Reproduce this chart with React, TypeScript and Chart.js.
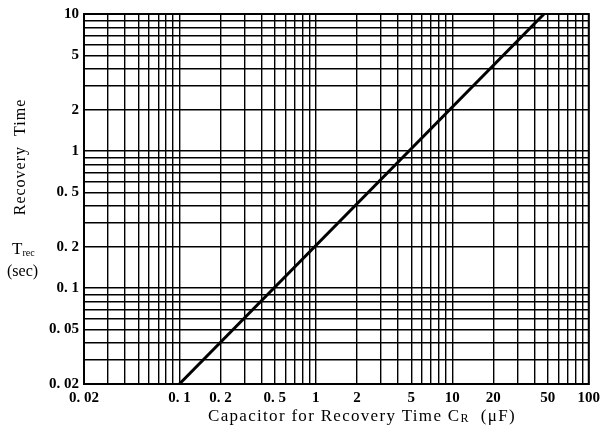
import React, { useEffect, useRef } from "react";
import { Chart, registerables } from "chart.js";

Chart.register(...registerables);

// Data (log-log, T_rec vs C_R)
const capacitorUF: number[] = [0.1, 47];
const recoverySec: number[] = [0.02, 10];

// Grid lines (every log-minor value) and labelled ticks
const xGrid: number[] = [
  0.02, 0.03, 0.04, 0.05, 0.06, 0.07, 0.08, 0.09,
  0.1, 0.2, 0.3, 0.4, 0.5, 0.6, 0.7, 0.8, 0.9,
  1, 2, 3, 4, 5, 6, 7, 8, 9,
  10, 20, 30, 40, 50, 60, 70, 80, 90, 100,
];
const yGrid: number[] = [
  0.02, 0.03, 0.04, 0.05, 0.06, 0.07, 0.08, 0.09,
  0.1, 0.2, 0.3, 0.4, 0.5, 0.6, 0.7, 0.8, 0.9,
  1, 2, 3, 4, 5, 6, 7, 8, 9, 10,
];
const xLabels: number[] = [0.02, 0.1, 0.2, 0.5, 1, 2, 5, 10, 20, 50, 100];
const yLabels: number[] = [0.02, 0.05, 0.1, 0.2, 0.5, 1, 2, 5, 10];

const yTitle = "Recovery  Time";
const xTitleMain = "Capacitor for Recovery Time C";
const xTitleSub = "R";
const xTitleEnd = "  (\u03BCF)";

const SERIF = '"Liberation Serif", "DejaVu Serif", serif';

function fmt(v: number): string {
  if (v < 1) {
    const s = String(v);
    return "0. " + s.slice(2);
  }
  return String(v);
}

function inList(list: number[], v: number): boolean {
  return list.some((l) => Math.abs(l - v) / l < 1e-6);
}

export default function App() {
  const ref = useRef<HTMLCanvasElement | null>(null);

  useEffect(() => {
    const canvas = ref.current;
    if (!canvas) return;

    const titlesPlugin = {
      id: "titles",
      afterDraw(chart: any) {
        const ctx = chart.ctx as CanvasRenderingContext2D;
        const a = chart.chartArea;
        ctx.save();
        // border
        ctx.strokeStyle = "#000";
        ctx.lineWidth = 2;
        ctx.strokeRect(a.left, a.top, a.right - a.left, a.bottom - a.top);

        ctx.fillStyle = "#000";
        // Y title rotated
        ctx.save();
        ctx.translate(21, 157);
        ctx.rotate(-Math.PI / 2);
        ctx.font = `16px ${SERIF}`;
        ctx.textAlign = "center";
        ctx.textBaseline = "middle";
        (ctx as any).letterSpacing = "1px";
        ctx.fillText(yTitle, 0, 0);
        ctx.restore();

        // T_rec
        ctx.textBaseline = "alphabetic";
        ctx.textAlign = "left";
        ctx.font = `17px ${SERIF}`;
        ctx.fillText("T", 12, 254);
        const tw = ctx.measureText("T").width;
        ctx.font = `10px ${SERIF}`;
        ctx.fillText("rec", 12 + tw, 256);
        // (sec)
        ctx.font = `16px ${SERIF}`;
        ctx.fillText("(sec)", 7, 276);

        // X title
        ctx.font = `17px ${SERIF}`;
        (ctx as any).letterSpacing = "1.3px";
        const w1 = ctx.measureText(xTitleMain).width;
        const w3 = ctx.measureText(xTitleEnd).width;
        ctx.font = `12px ${SERIF}`;
        const w2 = ctx.measureText(xTitleSub).width;
        const total = w1 + w2 + w3;
        let x = 362 - total / 2;
        const base = 421;
        ctx.font = `17px ${SERIF}`;
        ctx.fillText(xTitleMain, x, base);
        x += w1;
        ctx.font = `12px ${SERIF}`;
        ctx.fillText(xTitleSub, x, base + 1);
        x += w2;
        ctx.font = `17px ${SERIF}`;
        ctx.fillText(xTitleEnd, x, base);
        ctx.restore();
      },
    };

    const chart = new Chart(canvas, {
      type: "scatter",
      data: {
        datasets: [
          {
            data: capacitorUF.map((c, i) => ({ x: c, y: recoverySec[i] })),
            showLine: true,
            borderColor: "#000",
            backgroundColor: "#000",
            borderWidth: 3,
            pointRadius: 0,
          },
        ],
      },
      options: {
        responsive: false,
        animation: false,
        devicePixelRatio: 1,
        layout: { padding: { left: 0, right: 13, top: 9, bottom: 0 } },
        plugins: { legend: { display: false }, tooltip: { enabled: false } },
        scales: {
          x: {
            type: "logarithmic",
            min: 0.02,
            max: 100,
            afterBuildTicks: (s: any) => {
              s.ticks = xGrid.map((v) => ({ value: v }));
            },
            afterFit: (s: any) => {
              s.height = 51;
            },
            grid: { color: "#000", lineWidth: 1.4, drawTicks: false },
            border: { display: true, color: "#000", width: 2 },
            ticks: {
              autoSkip: false,
              maxRotation: 0,
              minRotation: 0,
              padding: 5,
              color: "#000",
              font: { family: SERIF, size: 15, weight: "bold" },
              callback: (v: any) => (inList(xLabels, Number(v)) ? fmt(Number(v)) : ""),
            },
          },
          y: {
            type: "logarithmic",
            min: 0.02,
            max: 10,
            afterBuildTicks: (s: any) => {
              s.ticks = yGrid.map((v) => ({ value: v }));
            },
            afterFit: (s: any) => {
              s.width = 84;
            },
            grid: { color: "#000", lineWidth: 1.4, drawTicks: false },
            border: { display: true, color: "#000", width: 2 },
            ticks: {
              autoSkip: false,
              padding: 5,
              color: "#000",
              font: { family: SERIF, size: 15, weight: "bold" },
              callback: (v: any) => (inList(yLabels, Number(v)) ? fmt(Number(v)) : ""),
            },
          },
        },
      } as any,
      plugins: [titlesPlugin],
    });

    return () => {
      chart.destroy();
    };
  }, []);

  return (
    <div style={{ position: "fixed", left: 0, top: 0, width: 605, height: 435, background: "#fff" }}>
      <canvas ref={ref} width={605} height={435} style={{ width: 605, height: 435 }} />
    </div>
  );
}
